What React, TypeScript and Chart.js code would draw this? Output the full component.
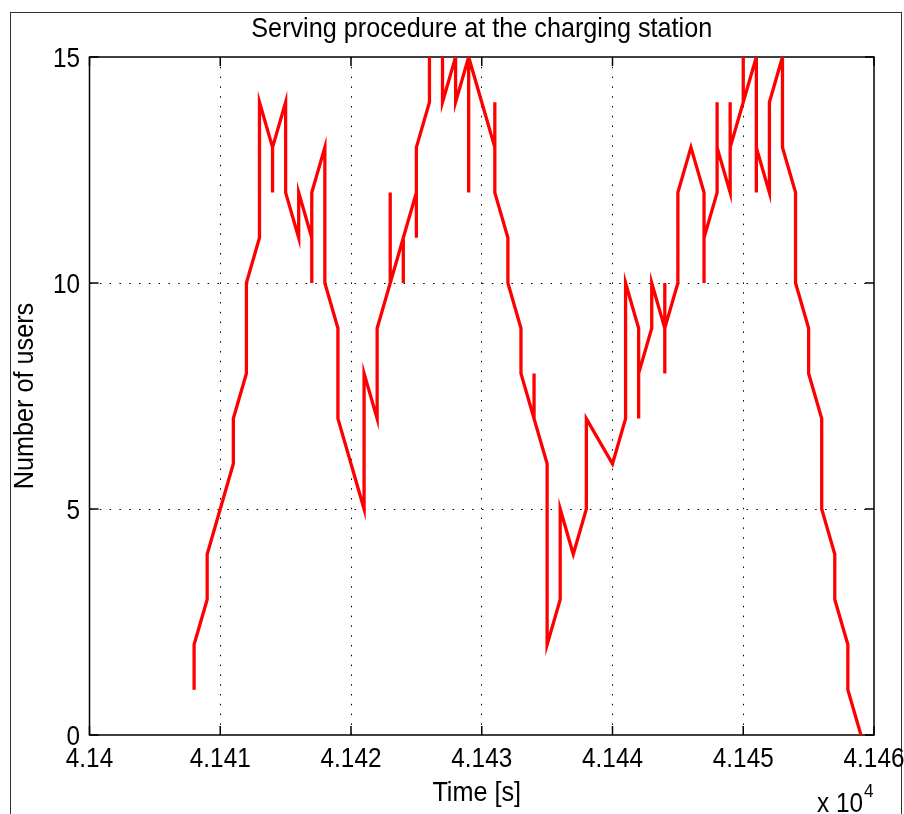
import React, { useEffect, useRef } from 'react';
import { Chart, registerables } from 'chart.js';

Chart.register(...registerables);

// ---- data ----
const times: number[] = [
  41408, 41408, 41409, 41409, 41410, 41411, 41411, 41412, 41412, 41413,
  41413, 41414, 41414, 41414, 41415, 41415, 41416, 41416, 41417, 41417,
  41417, 41418, 41418, 41419, 41419, 41420, 41421, 41421, 41422, 41422,
  41423, 41423, 41423, 41424, 41424, 41424, 41425, 41425, 41425, 41426,
  41426, 41427, 41427, 41428, 41428, 41429, 41429, 41429, 41430, 41431,
  41431, 41431, 41432, 41432, 41433, 41433, 41434, 41434, 41434, 41435,
  41435, 41436, 41436, 41437, 41438, 41438, 41440, 41441, 41441, 41442,
  41442, 41442, 41443, 41443, 41444, 41444, 41444, 41444, 41445, 41445,
  41446, 41447, 41447, 41447, 41448, 41448, 41448, 41449, 41449, 41449,
  41450, 41450, 41450, 41451, 41451, 41451, 41452, 41452, 41453, 41453,
  41454, 41454, 41455, 41455, 41456, 41456, 41457, 41457, 41458, 41458,
  41459,
];
const users: number[] = [
  1, 2, 3, 4, 5, 6, 7, 8, 10, 11,
  14, 13, 12, 13, 14, 12, 11, 12, 11, 10,
  12, 13, 10, 9, 7, 6, 5, 8, 7, 9,
  10, 12, 10, 11, 10, 11, 12, 11, 13, 14,
  16, 16, 14, 15, 14, 15, 12, 15, 14, 13,
  14, 12, 11, 10, 9, 8, 7, 8, 7, 6,
  2, 3, 5, 4, 5, 7, 6, 7, 10, 9,
  7, 8, 9, 10, 9, 10, 8, 9, 10, 12,
  13, 12, 10, 11, 12, 14, 13, 12, 14, 13,
  14, 15, 14, 15, 12, 13, 12, 14, 15, 13,
  12, 10, 9, 8, 7, 5, 4, 3, 2, 1,
  0,
];
const xTickLabels: string[] = ['4.14', '4.141', '4.142', '4.143', '4.144', '4.145', '4.146'];
const yTickLabels: string[] = ['0', '5', '10', '15'];
const xMin = 41400;
const xMax = 41460;
const xStep = 10;
const yMin = 0;
const yMax = 15;
const yStep = 5;
const titleText = 'Serving procedure at the charging station';
const xLabel = 'Time [s]';
const yLabel = 'Number of users';
const exponentBase = 'x 10';
const exponentPower = '4';

const FONT = '"Liberation Sans", Arial, Helvetica, sans-serif';
const TICK_SIZE = 27;
const LABEL_SIZE = 28;
const SX = 0.9; // horizontal condensing of the MATLAB-like text

function drawText(
  ctx: CanvasRenderingContext2D,
  text: string,
  x: number,
  y: number,
  size: number,
  align: CanvasTextAlign,
  rotation = 0,
) {
  ctx.save();
  ctx.translate(x, y);
  if (rotation) ctx.rotate(rotation);
  ctx.scale(SX, 1);
  ctx.font = `${size}px ${FONT}`;
  ctx.textAlign = align;
  ctx.textBaseline = 'alphabetic';
  ctx.fillStyle = '#000';
  ctx.fillText(text, 0, 0);
  ctx.restore();
}

const matlabAxes = {
  id: 'matlabAxes',
  beforeDatasetsDraw(chart: any) {
    const { ctx, chartArea: a, scales } = chart;
    const xs = scales.x;
    const ys = scales.y;
    ctx.save();
    ctx.strokeStyle = '#000';
    ctx.lineWidth = 1.5;
    ctx.setLineDash([]);
    ctx.strokeRect(a.left, a.top, a.right - a.left, a.bottom - a.top);
    const tl = 9;
    ctx.beginPath();
    xs.ticks.forEach((t: any) => {
      const px = xs.getPixelForValue(t.value);
      ctx.moveTo(px, a.bottom);
      ctx.lineTo(px, a.bottom - tl);
      ctx.moveTo(px, a.top);
      ctx.lineTo(px, a.top + tl);
    });
    ys.ticks.forEach((t: any) => {
      const py = ys.getPixelForValue(t.value);
      ctx.moveTo(a.left, py);
      ctx.lineTo(a.left + tl, py);
      ctx.moveTo(a.right, py);
      ctx.lineTo(a.right - tl, py);
    });
    ctx.stroke();
    ctx.restore();
  },
  afterDraw(chart: any) {
    const { ctx, chartArea: a, scales } = chart;
    const xs = scales.x;
    const ys = scales.y;
    const cx = (a.left + a.right) / 2;
    // title
    drawText(ctx, titleText, cx, 37, LABEL_SIZE, 'center');
    // x tick labels
    xs.ticks.forEach((t: any, i: number) => {
      drawText(ctx, xTickLabels[i], xs.getPixelForValue(t.value), a.bottom + 32, TICK_SIZE, 'center');
    });
    // y tick labels
    ys.ticks.forEach((t: any, i: number) => {
      drawText(ctx, yTickLabels[i], a.left - 9.5, ys.getPixelForValue(t.value) + 9.5, TICK_SIZE, 'right');
    });
    // axis labels
    drawText(ctx, xLabel, cx - 5, 801, LABEL_SIZE, 'center');
    drawText(ctx, yLabel, 32.5, (a.top + a.bottom) / 2, LABEL_SIZE, 'center', -Math.PI / 2);
    // exponent
    drawText(ctx, exponentBase, a.right - 57, 812, TICK_SIZE, 'left');
    ctx.save();
    ctx.font = `${TICK_SIZE}px ${FONT}`;
    const w = ctx.measureText(exponentBase).width * SX;
    ctx.restore();
    drawText(ctx, exponentPower, a.right - 57 + w + 1, 797, 19, 'left');
  },
};

const edgeTransparent = (lo: number, hi: number) => (c: any) => {
  const v = c.tick ? c.tick.value : null;
  return v === lo || v === hi ? 'rgba(0,0,0,0)' : '#000';
};

export default function App() {
  const ref = useRef<HTMLCanvasElement | null>(null);

  useEffect(() => {
    if (!ref.current) return;
    const data = times.map((t, i) => ({ x: t, y: users[i] }));
    const chart = new Chart(ref.current, {
      type: 'line',
      data: {
        datasets: [
          {
            data,
            borderColor: '#ff0000',
            backgroundColor: '#ff0000',
            borderWidth: 3.3,
            pointRadius: 0,
            tension: 0,
            fill: false,
            clip: 0,
          } as any,
        ],
      },
      plugins: [matlabAxes],
      options: {
        animation: false,
        responsive: false,
        events: [],
        layout: { padding: { left: 7, right: 30, top: 57, bottom: 0 } },
        plugins: {
          legend: { display: false },
          tooltip: { enabled: false },
          title: { display: false },
        },
        scales: {
          x: {
            type: 'linear',
            min: xMin,
            max: xMax,
            afterFit: (s: any) => {
              s.height = 79;
              s.paddingLeft = 0;
              s.paddingRight = 0;
            },
            ticks: {
              stepSize: xStep,
              display: false,
              autoSkip: false,
              maxRotation: 0,
            },
            grid: {
              drawTicks: false,
              color: edgeTransparent(xMin, xMax),
              lineWidth: 1,
            },
            border: { display: false, dash: [1.5, 8.3] },
            title: { display: false },
          },
          y: {
            type: 'linear',
            min: yMin,
            max: yMax,
            afterFit: (s: any) => {
              s.width = 82.5;
              s.paddingTop = 0;
              s.paddingBottom = 0;
            },
            ticks: {
              stepSize: yStep,
              display: false,
            },
            grid: {
              drawTicks: false,
              color: edgeTransparent(yMin, yMax),
              lineWidth: 1,
            },
            border: { display: false, dash: [1.5, 8.3] },
            title: { display: false },
          },
        },
      } as any,
    });
    return () => chart.destroy();
  }, []);

  return (
    <div
      style={{
        position: 'fixed',
        left: 0,
        top: 0,
        width: 904,
        height: 814,
        overflow: 'hidden',
        background: '#fff',
      }}
    >
      <div
        style={{
          position: 'absolute',
          left: 10,
          top: 12,
          width: 892,
          height: 840,
          boxSizing: 'border-box',
          border: '1px solid #333',
        }}
      />
      <canvas
        ref={ref}
        width={904}
        height={814}
        style={{ position: 'absolute', left: 0, top: 0, display: 'block' }}
      />
    </div>
  );
}
